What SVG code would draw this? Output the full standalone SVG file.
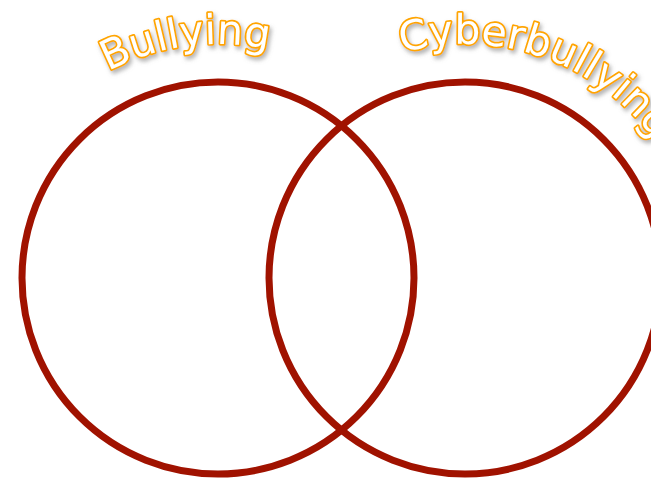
<svg xmlns="http://www.w3.org/2000/svg" width="651" height="481" viewBox="0 0 651 481">
<style>
.ring{fill:none;stroke:#A01200;stroke-width:7}
.title{font-family:"DejaVu Sans",sans-serif;font-size:41px;fill:#fff;stroke:#FFA500;stroke-width:3.4;paint-order:stroke;stroke-linejoin:round;filter:url(#sh)}
</style>
<defs>
<filter id="sh" x="-20%" y="-50%" width="140%" height="200%">
<feDropShadow dx="2" dy="3" stdDeviation="2" flood-color="#777" flood-opacity="0.55"/>
</filter>
<path id="arcL" d="M -1.9 198 A 234 234 0 0 1 437.9 198"/>
<path id="arcR" d="M 245.1 198 A 234 234 0 0 1 684.9 198"/>
</defs>
<rect width="651" height="481" fill="#fff"/>
<g id="circle-bullying"><circle class="ring" cx="218" cy="278" r="196"/></g>
<g id="circle-cyberbullying"><circle class="ring" cx="465" cy="278" r="196"/></g>
<g id="label-bullying"><text class="title" text-anchor="middle"><textPath href="#arcL" startOffset="254">Bullying</textPath></text></g>
<g id="label-cyberbullying"><text class="title" text-anchor="middle"><textPath href="#arcR" startOffset="364">Cyberbullying</textPath></text></g>
</svg>
